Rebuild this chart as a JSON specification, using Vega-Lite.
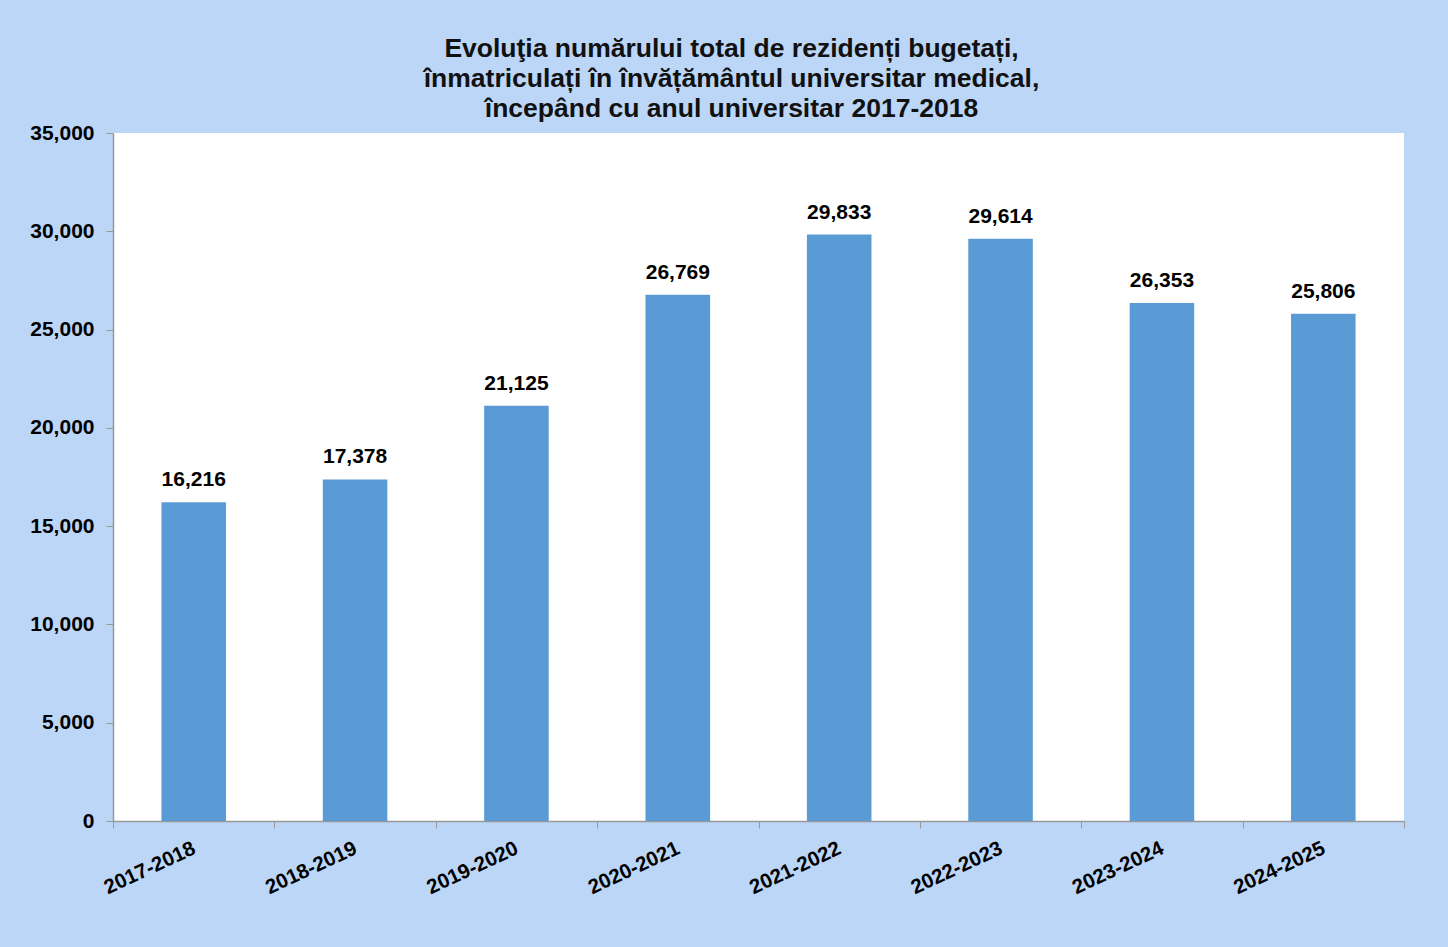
{
  "$schema": "https://vega.github.io/schema/vega-lite/v6.json",
  "width": 1291,
  "height": 688,
  "autosize": {"type": "none"},
  "padding": {"left": 113, "top": 133, "right": 44, "bottom": 126},
  "background": "#bcd6f7",
  "config": {
    "view": {"fill": "#ffffff", "stroke": null},
    "font": "Liberation Sans"
  },
  "title": {
    "text": ["Evoluţia numărului total de rezidenți bugetați,", "înmatriculați în învățământul universitar medical,", "începând cu anul universitar 2017-2018"],
    "font": "Liberation Sans",
    "fontSize": 26.5,
    "fontWeight": "bold",
    "color": "#111111",
    "anchor": "middle",
    "lineHeight": 30,
    "dx": -27,
    "offset": 0
  },
  "data": {
    "values": [
      {"an": "2017-2018", "rezidenti": 16216},
      {"an": "2018-2019", "rezidenti": 17378},
      {"an": "2019-2020", "rezidenti": 21125},
      {"an": "2020-2021", "rezidenti": 26769},
      {"an": "2021-2022", "rezidenti": 29833},
      {"an": "2022-2023", "rezidenti": 29614},
      {"an": "2023-2024", "rezidenti": 26353},
      {"an": "2024-2025", "rezidenti": 25806}
    ]
  },
  "encoding": {
    "x": {
      "field": "an",
      "type": "nominal",
      "sort": null,
      "scale": {"paddingInner": 0, "paddingOuter": 0},
      "axis": {
        "title": null,
        "labelAngle": -25,
        "labelAlign": "right",
        "labelBaseline": "top",
        "labelFont": "Liberation Sans",
        "labelFontSize": 20.5,
        "labelFontWeight": "bold",
        "labelColor": "#000000",
        "labelPadding": 10,
        "labelOffset": -4,
        "tickBand": "extent",
        "tickColor": "#999999",
        "tickSize": 7,
        "domainColor": "#999999",
        "domainWidth": 1.5
      }
    },
    "y": {
      "field": "rezidenti",
      "type": "quantitative",
      "scale": {"domain": [0, 35000], "nice": false},
      "axis": {
        "title": null,
        "values": [0, 5000, 10000, 15000, 20000, 25000, 30000, 35000],
        "format": ",.0f",
        "grid": false,
        "labelFont": "Liberation Sans",
        "labelFontSize": 21,
        "labelFontWeight": "bold",
        "labelColor": "#000000",
        "labelPadding": 12,
        "tickColor": "#999999",
        "tickSize": 7,
        "domainColor": "#999999",
        "domainWidth": 1.5
      }
    }
  },
  "layer": [
    {"mark": {"type": "bar", "color": "#5b9bd5", "width": {"band": 0.4}}},
    {
      "mark": {"type": "text", "baseline": "bottom", "dy": -12, "font": "Liberation Sans", "fontSize": 21, "fontWeight": "bold", "color": "#000000"},
      "encoding": {"text": {"field": "rezidenti", "type": "quantitative", "format": ",.0f"}}
    }
  ]
}
